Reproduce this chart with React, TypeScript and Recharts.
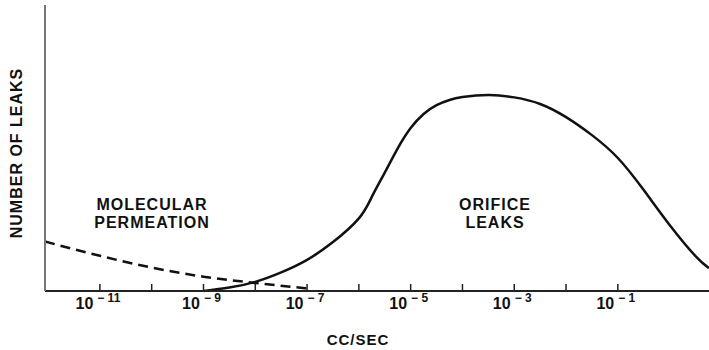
import { LineChart, Line, XAxis, YAxis } from "recharts";

// x values are log10(cc/sec), y is relative number of leaks
const orificeX = [-9, -8.5, -8, -7.5, -7, -6.5, -6, -5.75, -5.5, -5.25, -5, -4.75, -4.5, -4.25, -4, -3.5, -3, -2.5, -2, -1.5, -1, -0.5, 0, 0.5, 0.76];
const orificeY = [0, 1.2, 3.2, 6.5, 10.9, 17.1, 25.4, 32.9, 41.4, 49.9, 57.0, 61.9, 65.0, 66.8, 67.8, 68.5, 67.7, 65.4, 60.8, 54.5, 46.5, 35.3, 23.1, 12.2, 8.0];

const permeationX = [-12.06, -11, -10, -9, -8, -7];
const permeationY = [17.3, 12.3, 8.2, 5.0, 2.8, 0.9];

const decadeTicks = [-11, -10, -9, -8, -7, -6, -5, -4, -3, -2, -1];
const labelledTicks = [-11, -9, -7, -5, -3, -1];

const orifice = orificeX.map((x, i) => ({ x, y: orificeY[i] }));
const permeation = permeationX.map((x, i) => ({ x, y: permeationY[i] }));

const FONT = "'Liberation Sans', Arial, sans-serif";

const DecadeTick = (props: any) => {
  const { x, y, payload } = props;
  const v = payload.value;
  const showLabel = labelledTicks.includes(v);
  return (
    <g>
      <line x1={x} x2={x} y1={y} y2={y - 7} stroke="#222" strokeWidth={1.5} />
      {showLabel && (
        <text
          x={x - 2}
          y={y + 18}
          textAnchor="middle"
          fontFamily={FONT}
          fontWeight="bold"
          fill="#111"
        >
          <tspan fontSize={16}>10</tspan>
          <tspan fontSize={12} dy={-7} dx={4}>
            {"\u2212 " + Math.abs(v)}
          </tspan>
        </text>
      )}
    </g>
  );
};

export default function App() {
  return (
    <div style={{ position: "absolute", left: 0, top: 0, background: "#fff" }}>
      <LineChart
        width={709}
        height={350}
        margin={{ top: 5, right: 0, left: 43, bottom: 29 }}
      >
        <XAxis
          dataKey="x"
          type="number"
          domain={[-12.06, 0.76]}
          ticks={decadeTicks}
          allowDataOverflow
          height={30}
          tickSize={0}
          tickMargin={0}
          tickLine={false}
          tick={<DecadeTick />}
          axisLine={{ stroke: "#222", strokeWidth: 2 }}
        />
        <YAxis
          type="number"
          domain={[0, 100]}
          width={2}
          tick={false}
          tickLine={false}
          axisLine={{ stroke: "#777", strokeWidth: 2 }}
        />
        <Line
          data={permeation}
          dataKey="y"
          type="monotone"
          stroke="#111"
          strokeWidth={2.5}
          strokeDasharray="10 6"
          dot={false}
          isAnimationActive={false}
        />
        <Line
          data={orifice}
          dataKey="y"
          type="natural"
          stroke="#111"
          strokeWidth={2.5}
          dot={false}
          isAnimationActive={false}
        />
        <text
          transform="rotate(-90, 22, 153)"
          x={22}
          y={153}
          textAnchor="middle"
          fontFamily={FONT}
          fontWeight="bold"
          fontSize={16}
          letterSpacing={1}
          fill="#111"
        >
          NUMBER OF LEAKS
        </text>
        <text x={358} y={345} textAnchor="middle" fontFamily={FONT} fontWeight="bold" fontSize={15} letterSpacing={1} fill="#111">
          CC/SEC
        </text>
        <text textAnchor="middle" fontFamily={FONT} fontWeight="bold" fontSize={16} letterSpacing={1} fill="#111">
          <tspan x={152} y={210}>MOLECULAR</tspan>
          <tspan x={152} y={228}>PERMEATION</tspan>
        </text>
        <text textAnchor="middle" fontFamily={FONT} fontWeight="bold" fontSize={16} letterSpacing={1} fill="#111">
          <tspan x={495} y={210}>ORIFICE</tspan>
          <tspan x={495} y={228}>LEAKS</tspan>
        </text>
      </LineChart>
    </div>
  );
}
